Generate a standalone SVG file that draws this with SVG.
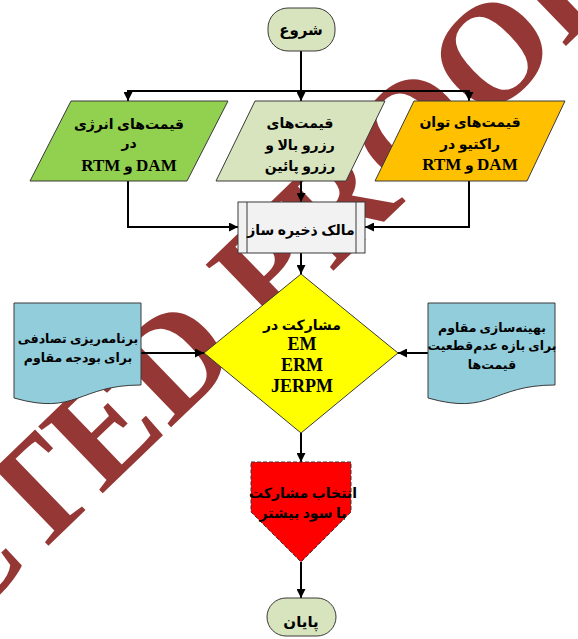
<svg xmlns="http://www.w3.org/2000/svg" width="578" height="639" viewBox="0 0 578 639">
<defs>
<marker id="ah" viewBox="0 0 10 10" refX="10" refY="5" markerWidth="4.5" markerHeight="4.5" orient="auto"><path d="M0,0 L10,5 L0,10 Z" fill="#000"/></marker>
</defs>
<style>
.n { stroke:#3a3a3a; stroke-width:1; }
.t { font-family:"Liberation Serif","DejaVu Sans",serif; font-weight:bold; font-size:14px; text-anchor:middle; direction:rtl; fill:#000; }
.s { font-size:12.5px; }
.l { font-size:18px; }
.lt { font-size:17px; }
.c { fill:none; stroke:#000; stroke-width:2; marker-end:url(#ah); }
.wm { font-family:"Liberation Serif",serif; font-weight:bold; font-size:142px; fill:#953735; }
</style>
<rect width="578" height="639" fill="#fff"/>
<text class="wm" transform="translate(626,-12) rotate(-44)" text-anchor="end">UNCORRECTED PROOF</text>
<g id="connectors">
<path class="c" d="M301,51 V101"/>
<path class="c" d="M301,91 H128 V101"/>
<path class="c" d="M301,91 H469 V101"/>
<path class="c" d="M128,181 V227 H238"/>
<path class="c" d="M301,181 V202"/>
<path class="c" d="M469,181 V227 H365"/>
<path class="c" d="M301,253 V274"/>
<path class="c" d="M141,353 H204"/>
<path class="c" d="M428,353 H398"/>
<path class="c" d="M301,433 V462"/>
<path class="c" d="M301,562 V598"/>
</g>
<g id="start">
<rect class="n" x="268" y="8" width="67" height="43" rx="20" fill="#d7e4bd"/>
<text class="t" x="301" y="35" style="font-size:15px">شروع</text>
</g>
<g id="energy-prices">
<path class="n" d="M71,101 H228 L187,181 H30 Z" fill="#92d050"/>
<text class="t" x="129" y="129">قیمت‌های انرژی</text>
<text class="t" x="129" y="148">در</text>
<text class="t" x="129" y="171"><tspan class="lt">DAM</tspan> و <tspan class="lt">RTM</tspan></text>
</g>
<g id="reserve-prices">
<path class="n" d="M255,101 H385 L346,181 H216 Z" fill="#d7e4bd"/>
<text class="t" x="300" y="128">قیمت‌های</text>
<text class="t" x="300" y="150">رزرو بالا و</text>
<text class="t" x="300" y="171">رزرو پائین</text>
</g>
<g id="reactive-prices">
<path class="n" d="M414,101 H565 L527,181 H375 Z" fill="#ffc000"/>
<text class="t" x="470" y="127">قیمت‌های توان</text>
<text class="t" x="470" y="149">راکتیو در</text>
<text class="t" x="470" y="170"><tspan class="lt">DAM</tspan> و <tspan class="lt">RTM</tspan></text>
</g>
<g id="storage-owner">
<rect class="n" x="238" y="202" width="127" height="51" fill="#f2f2f2"/>
<line class="n" x1="247" y1="202" x2="247" y2="253"/>
<line class="n" x1="356" y1="202" x2="356" y2="253"/>
<text class="t" x="301" y="235">مالک ذخیره ساز</text>
</g>
<g id="robust-budget">
<path class="n" d="M14,303 H141 V385 C77.5,385 77.5,416 14,398 Z" fill="#92cddc"/>
<text class="t s" x="78" y="343">برنامه‌ریزی تصادفی</text>
<text class="t s" x="78" y="362">برای بودجه مقاوم</text>
</g>
<g id="robust-optimization">
<path class="n" d="M428,303 H555 V385 C491.5,385 491.5,416 428,398 Z" fill="#92cddc"/>
<text class="t s" x="492" y="332">بهینه‌سازی مقاوم</text>
<text class="t s" x="492" y="350">برای بازه عدم‌قطعیت</text>
<text class="t s" x="492" y="369">قیمت‌ها</text>
</g>
<g id="participation">
<path class="n" d="M301,274 L398,353 L301,433 L204,353 Z" fill="#ffff00"/>
<text class="t" x="302" y="330">مشارکت در</text>
<text class="t l" x="302" y="350">EM</text>
<text class="t l" x="302" y="371">ERM</text>
<text class="t l" x="302" y="392">JERPM</text>
</g>
<g id="select">
<path class="n" d="M251,462 H351 V512 L301,562 L251,512 Z" fill="#ff0000" stroke-dasharray="4,2"/>
<text class="t" x="303" y="498">انتخاب مشارکت</text>
<text class="t" x="303" y="518">با سود بیشتر</text>
</g>
<g id="end">
<rect class="n" x="267" y="598" width="69" height="38" rx="19" fill="#d7e4bd"/>
<text class="t" x="301" y="627" style="font-size:15px">پایان</text>
</g>
</svg>
